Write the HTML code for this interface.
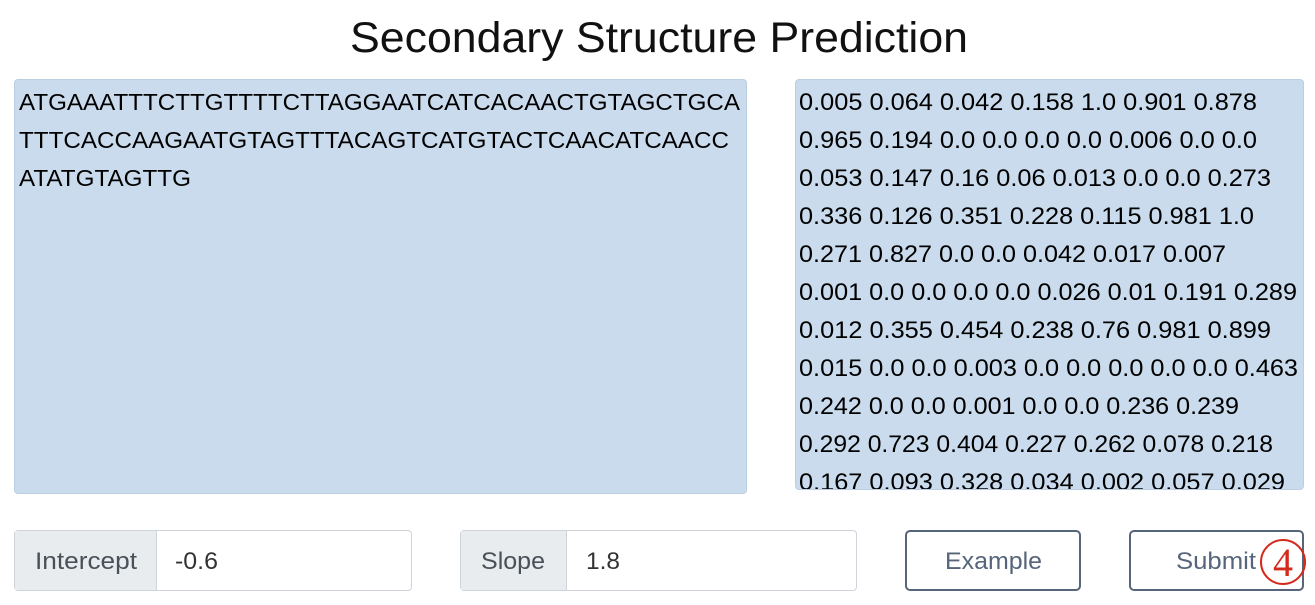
<!DOCTYPE html>
<html><head><meta charset="utf-8"><style>
body{margin:0;width:1315px;height:605px;background:#fff;font-family:"Liberation Sans",Arial,sans-serif;position:relative;overflow:hidden}
.a{position:absolute;box-sizing:border-box}
.f{position:absolute;white-space:nowrap;transform-origin:0 0;display:inline-block}
.ta{background:#c9dbec;border:1px solid #bccfe2;border-radius:4px;overflow:hidden;color:#000}
.grp{border:1px solid #ced4da;border-radius:4px;height:61px;top:530px}
.add{position:absolute;top:0;left:0;height:59px;background:#e9ecef;border-right:1px solid #ced4da}
.btn{border:2px solid #56657a;border-radius:5px;top:530px;height:61px}
.g{color:#495057;font-size:24px;top:548px}
.b{color:#56657a;font-size:24px;top:548px}
</style></head><body>
<span class="f" data-w="618" style="left:350px;top:14px;font-size:43px;color:#111">Secondary Structure Prediction</span>
<div class="a ta" style="left:14px;top:79px;width:733px;height:415px"></div>
<span class="f" data-w="721" style="left:19px;top:89px;font-size:23px">ATGAAATTTCTTGTTTTCTTAGGAATCATCACAACTGTAGCTGCA</span>
<span class="f" data-w="710" style="left:19px;top:127px;font-size:23px">TTTCACCAAGAATGTAGTTTACAGTCATGTACTCAACATCAACC</span>
<span class="f" data-w="172" style="left:19px;top:165px;font-size:23px">ATATGTAGTTG</span>
<div class="a ta" style="left:795px;top:79px;width:509px;height:411px">
<span class="f" data-w="458" style="left:3px;top:9px;font-size:24px">0.005 0.064 0.042 0.158 1.0 0.901 0.878</span>
<span class="f" data-w="458" style="left:3px;top:47px;font-size:24px">0.965 0.194 0.0 0.0 0.0 0.0 0.006 0.0 0.0</span>
<span class="f" data-w="472" style="left:3px;top:85px;font-size:24px">0.053 0.147 0.16 0.06 0.013 0.0 0.0 0.273</span>
<span class="f" data-w="455" style="left:3px;top:123px;font-size:24px">0.336 0.126 0.351 0.228 0.115 0.981 1.0</span>
<span class="f" data-w="427" style="left:3px;top:161px;font-size:24px">0.271 0.827 0.0 0.0 0.042 0.017 0.007</span>
<span class="f" data-w="498" style="left:3px;top:199px;font-size:24px">0.001 0.0 0.0 0.0 0.0 0.026 0.01 0.191 0.289</span>
<span class="f" data-w="472" style="left:3px;top:237px;font-size:24px">0.012 0.355 0.454 0.238 0.76 0.981 0.899</span>
<span class="f" data-w="499" style="left:3px;top:275px;font-size:24px">0.015 0.0 0.0 0.003 0.0 0.0 0.0 0.0 0.0 0.463</span>
<span class="f" data-w="440" style="left:3px;top:313px;font-size:24px">0.242 0.0 0.0 0.001 0.0 0.0 0.236 0.239</span>
<span class="f" data-w="474" style="left:3px;top:351px;font-size:24px">0.292 0.723 0.404 0.227 0.262 0.078 0.218</span>
<span class="f" data-w="486" style="left:3px;top:389px;font-size:24px">0.167 0.093 0.328 0.034 0.002 0.057 0.029</span>
</div>
<div class="a grp" style="left:14px;width:398px"><div class="add" style="width:141px"></div></div>
<span class="f g" data-w="102" style="left:35px">Intercept</span>
<span class="f g" data-w="43" style="left:175px;color:#333">-0.6</span>
<div class="a grp" style="left:460px;width:397px"><div class="add" style="width:105px"></div></div>
<span class="f g" data-w="64" style="left:481px">Slope</span>
<span class="f g" data-w="34" style="left:586px;color:#333">1.8</span>
<div class="a btn" style="left:905px;width:176px"></div>
<span class="f b" data-w="97" style="left:945px">Example</span>
<div class="a btn" style="left:1129px;width:175px"></div>
<span class="f b" data-w="80" style="left:1176px">Submit</span>
<div class="a" style="left:1260px;top:539px;width:46px;height:46px;border:2px solid #d42a1c;border-radius:50%;color:#d42a1c;font-family:'Liberation Serif',serif;font-size:40px;line-height:44px;text-align:center">4</div>
<script>
document.querySelectorAll('[data-w]').forEach(function(e){var w=+e.getAttribute('data-w');var s=w/e.getBoundingClientRect().width;e.style.transform='scaleX('+s+')';});
</script>
</body></html>
